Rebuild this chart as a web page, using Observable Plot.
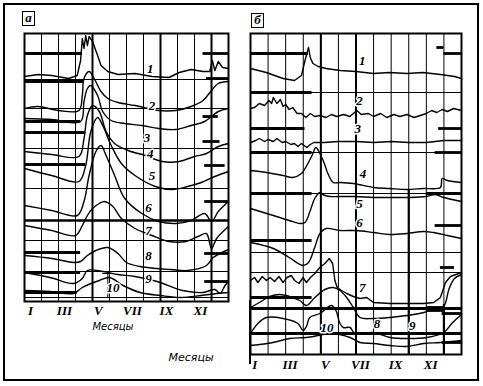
<!DOCTYPE html>
<html><head><meta charset="utf-8">
<script src="https://cdn.jsdelivr.net/npm/d3@7"></script>
<script src="https://cdn.jsdelivr.net/npm/@observablehq/plot@0.6"></script>
<style>
body{margin:0;background:#fff;}
#wrap{position:relative;width:483px;height:386px;overflow:hidden;background:#fff;}
.box{position:absolute;top:0;}
#frame{position:absolute;left:3px;top:3px;width:472px;height:374px;border:2px solid #000;}
#divider{position:absolute;left:249px;top:300px;width:2px;height:64px;background:#000;}
.plabel{position:absolute;border:1.6px solid #000;font:italic bold 13px "Liberation Serif";width:11px;height:13px;line-height:12px;text-align:center;}
g[aria-label="roman"] text{text-decoration:overline underline;}
</style></head><body>
<div id="wrap">
  <div id="frame"></div>
  <div id="divider"></div>
  <div class="box" id="pa" style="left:0px"></div>
  <div class="box" id="pb" style="left:240px"></div>
  <div class="plabel" style="left:22px;top:11px">а</div>
  <div class="plabel" style="left:251px;top:13px">б</div>
</div>
<script>
// ---------- shared ----------
const monthTicks = [0, 2, 4, 6, 8, 10];
const monthLabels = ["I", "III", "V", "VII", "IX", "XI"];
const axisTitle = "Месяцы";
const curveNames = ["1","2","3","4","5","6","7","8","9","10"];

// ---------- panel а : [month, level] ----------
const a1 = [[0,225],[0.8,227],[1.6,226],[2.6,223],[3.1,226],[3.3,241],[3.4,263],[3.5,253],[3.6,266],[3.7,256],[3.8,265],[4.0,260],[4.3,246],[4.5,236],[4.9,230],[5.5,227],[6.5,228],[7.5,225],[8.5,224],[9.1,229],[9.8,232],[10.5,230],[10.9,230],[11.05,241],[11.2,231],[11.4,240],[11.65,234],[12,233]];
const a2 = [[0,193],[0.8,195],[2.0,191],[3.2,191],[3.4,206],[3.5,223],[3.8,230],[4.1,223],[4.5,210],[4.9,203],[5.5,199],[6.5,196],[7.9,191],[8.9,191],[9.8,195],[10.5,201],[11.0,211],[11.4,218],[12,220]];
const a3 = [[0,183],[1.6,182],[3.3,180],[3.5,200],[3.7,213],[3.9,216],[4.3,206],[4.6,190],[5.1,181],[5.9,178],[6.9,176],[7.9,173],[8.9,172],[9.8,176],[10.6,180],[11.4,190],[12,193]];
const a4 = [[0,150],[1.6,147],[3.2,145],[3.5,163],[3.7,186],[4.0,196],[4.4,190],[4.8,170],[5.3,158],[6.1,151],[7.1,146],[8.1,140],[9.1,140],[10.0,145],[10.7,148],[11.4,155],[12,158]];
const a5 = [[0,133],[1.6,126],[3.2,120],[3.6,136],[3.9,170],[4.3,184],[4.6,176],[5.1,156],[5.7,138],[6.5,126],[7.7,115],[8.7,112],[9.6,115],[10.4,119],[11.2,125],[12,130]];
const a6 = [[0,96],[1.6,91],[3.1,86],[3.5,100],[3.8,126],[4.2,150],[4.5,156],[4.8,146],[5.3,126],[5.9,103],[6.9,88],[7.9,80],[8.9,78],[9.8,81],[10.6,88],[11.0,80],[11.4,90],[12,100]];
const a7 = [[0,76],[1.6,71],[3.0,66],[3.4,76],[3.7,86],[4.0,93],[4.4,98],[4.7,100],[5.2,95],[5.7,83],[6.5,73],[7.5,66],[8.5,60],[9.5,60],[10.2,65],[10.7,68],[11.0,53],[11.3,63],[12,75]];
const a8 = [[0,46],[1.6,43],[2.9,39],[3.3,40],[3.7,46],[4.2,51],[4.9,54],[5.5,48],[6.0,39],[6.8,35],[7.8,33],[8.6,32],[9.6,31],[10.7,36],[11.1,44],[11.5,48],[12,52]];
const a9 = [[0,29],[1.5,24],[2.9,18],[3.4,23],[3.7,31],[4.6,30],[5.5,27],[6.5,25],[7.8,20],[9.3,11],[10.5,9],[11.2,12],[11.5,8],[11.8,16],[12,20]];
const a10 = [[0,11],[1.5,10],[2.9,8],[3.4,14],[4.4,21],[5.0,24],[5.8,16],[6.8,9],[8.0,6],[9.2,4],[10.4,6],[11.3,8],[12,9]];
const aLabelMonth = [7.4,7.5,7.2,7.4,7.5,7.3,7.3,7.3,7.3,5.2];
const aLabelLevel = [233,196,164,148,126,94,71,46,23,14];
const aThinY = [222,193,153,113,61,30,4];
const aThickFullY = [81];
const aThickY    = [248,220,180,169,137,49,29,9, 248,223,185,160,136,100,48,20];
const aThickFrom = [0,0,0,0,0,0,0,0, 10.5,10.7,10.5,10.5,10.6,10.6,10.6,10.6];
const aThickTo   = [3.4,3.5,3.3,3.6,3.6,3.3,3.3,3.1, 12,12,11.4,11.5,11.8,12,12,12];
const aThickV = [4,8,11];

// ---------- panel б ----------
const b1 = [[0,286],[0.9,282],[1.85,276],[2.5,274],[2.9,279],[3.1,294],[3.3,307],[3.4,297],[3.55,291],[3.85,288],[4.3,286],[5.1,284],[6.0,283],[7.0,281],[7.9,282],[8.9,281],[9.8,282],[10.8,280],[11.6,278],[12,276]];
const b2 = [[0,246],[0.23,247],[0.5,251],[0.8,249],[1.05,254],[1.2,251],[1.3,257],[1.5,251],[1.7,255],[1.85,248],[2.0,250],[2.2,245],[2.4,247],[2.65,241],[2.9,241],[3.15,237],[3.4,241],[3.65,238],[3.95,239],[4.3,237],[4.6,240],[4.9,238],[5.3,240],[5.65,238],[6.05,244],[6.3,240],[6.7,241],[7.0,238],[7.4,241],[7.75,237],[8.15,240],[8.5,238],[8.9,240],[9.3,237],[9.65,239],[10.0,241],[10.3,244],[10.6,242],[10.9,245],[11.2,243],[11.55,246],[12,244]];
const b3 = [[0,212],[0.3,214],[0.5,216],[0.8,213],[1,215],[1.3,213],[1.5,216],[1.8,212],[2,213],[2.3,210],[2.5,211],[2.7,208],[2.9,211],[3.2,207],[3.4,210],[3.6,212],[4.2,212],[5,213],[6,213],[7,212],[8,213],[9,212],[10,212],[11,214],[12,214]];
const b4 = [[0,184],[0.9,182],[1.85,179],[2.4,177],[2.9,181],[3.2,189],[3.5,199],[3.72,207],[3.95,201],[4.2,191],[4.4,181],[4.7,172],[5.1,172],[5.85,171],[7.0,167],[7.9,166],[8.9,165],[9.8,166],[10.8,167],[10.9,176],[11.2,174],[12,172]];
const b5 = [[0,146],[1.3,139],[2.2,134],[2.8,131],[3.1,132],[3.4,144],[3.65,156],[3.95,162],[4.1,160],[4.5,158],[5,158],[6,158],[7,157],[8,157],[9,157],[10,158],[10.5,160],[11,157],[12,153]];
const b6 = [[0,112],[1.3,106],[2.2,97],[3.0,89],[3.3,92],[3.65,107],[3.95,121],[4.3,126],[5.1,124],[6.0,124],[7.0,122],[7.9,120],[8.9,121],[9.85,123],[10.4,122],[11.2,119],[12,116]];
const b7 = [[0,74],[0.23,77],[0.42,72],[0.67,78],[0.9,74],[1.12,77],[1.37,73],[1.62,78],[1.85,72],[2.08,77],[2.32,79],[2.51,74],[2.76,71],[2.99,77],[3.18,72],[3.41,77],[3.66,81],[3.94,87],[4.23,91],[4.48,96],[4.67,91],[4.8,74],[4.93,67],[5.18,64],[5.47,61],[5.85,58],[6.23,56],[6.61,57],[6.99,52],[7.94,51],[8.9,51],[9.85,51],[10.42,52],[10.8,57],[11.09,72],[11.37,78],[12,82]];
const b8 = [[0,47],[0.51,52],[1.09,58],[1.66,60],[2.23,58],[2.8,54],[3.18,49],[3.66,57],[4.23,65],[4.7,67],[5.09,64],[5.47,57],[5.85,47],[6.23,37],[6.99,36],[7.94,37],[8.9,39],[9.85,42],[10.61,46],[10.99,48],[11.3,66],[11.6,76],[12,80]];
const b9 = [[0,9],[1.28,12],[2.23,16],[3.18,17],[4.7,21],[5.66,17],[6.23,12],[6.99,11],[7.94,9],[8.9,8],[9.85,11],[10.8,12],[12,14]];
const b10 = [[0,21],[0.42,31],[0.9,37],[1.85,36],[2.7,31],[2.99,24],[3.18,28],[3.37,37],[3.94,41],[4.61,49],[4.86,44],[5.09,31],[5.28,27],[5.66,27],[5.94,21],[6.99,22],[7.94,17],[8.9,16],[10.04,17],[10.99,22],[11.5,32],[12,40]];
const bLabelMonth = [6.35,6.2,6.1,6.4,6.2,6.2,6.35,7.2,9.2,4.35];
const bLabelLevel = [294,254,226,181,151,132,67,31,29,27];
const bThinY = [262,202,161,102,82];
const bThickY    = [301,262,226,202,161,114,57,46,21, 301,307,226,202,161,129,87,47,44,41,12];
const bThickFrom = [0,0,0,0,0,0,0,0,0, 11,10.6,10.7,10.5,10,10.5,10.8,10,10,10.9,10.9];
const bThickTo   = [3.3,3.5,3.1,3.5,3.5,3.5,3.5,12,12, 12,11,12,12,12,12,11.6,11,11,12,12];
const bThickV = [4,6];
const bThickVPart = [[9,0,164],[11,0,50]];

// ---------- builder ----------
function rows(series, keep) {
  return series.flatMap((s, i) => keep(i) ? s.map(([m, v]) => ({m, v, k: curveNames[i]})) : []);
}
function panel({series, jagged, labelM, labelL, thinY, thickFullY, thickY, thickFrom, thickTo, thickV, thickVPart, width, height, mL, mR, mT, mB, yMax, tickShift, tickDy, extra}) {
  const smoothRows = rows(series, i => !jagged.includes(i));
  const jagRows = rows(series, i => jagged.includes(i));
  const thick = thickY.map((y, i) => ({y, a: thickFrom[i], b: thickTo[i]}));
  const labels = curveNames.map((t, i) => ({t, m: labelM[i], v: labelL[i]}));
  const ticks = monthTicks.map((m, i) => ({m: m + tickShift, t: monthLabels[i]}));
  return Plot.plot({
    width, height, marginLeft: mL, marginRight: mR, marginTop: mT, marginBottom: mB,
    style: {background: "transparent", overflow: "visible"},
    x: {domain: [0, 12], axis: null},
    y: {domain: [0, yMax], axis: null},
    marks: [
      Plot.ruleX(d3.range(13), {stroke: "#000", strokeWidth: 1}),
      Plot.ruleX(thickV, {stroke: "#000", strokeWidth: 2}),
      Plot.ruleX(thickVPart, {x: d => d[0], y1: d => d[1], y2: d => d[2], stroke: "#000", strokeWidth: 2.2}),
      Plot.ruleY(thinY, {stroke: "#000", strokeWidth: 1}),
      Plot.ruleY(thickFullY, {stroke: "#000", strokeWidth: 2.6}),
      Plot.ruleY(thick, {y: "y", x1: "a", x2: "b", stroke: "#000", strokeWidth: 2.8}),
      ...(extra || []),
      Plot.line(smoothRows, {x: "m", y: "v", z: "k", curve: "catmull-rom", stroke: "#000", strokeWidth: 1.4}),
      Plot.line(jagRows, {x: "m", y: "v", z: "k", curve: "linear", stroke: "#000", strokeWidth: 1.4}),
      Plot.frame({stroke: "#000", strokeWidth: 2}),
      Plot.text(labels, {x: "m", y: "v", text: "t", fontFamily: "Liberation Serif", fontStyle: "italic", fontWeight: "bold", fontSize: 13, fill: "#000", stroke: "#fff", strokeWidth: 3, paintOrder: "stroke"}),
      Plot.text(ticks, {x: "m", y: 0, text: "t", dy: tickDy, fontFamily: "Liberation Serif", fontStyle: "italic", fontWeight: "bold", fontSize: 13, fill: "#000", ariaLabel: "roman"})
    ]
  });
}

const svgA = panel({
  series: [a1,a2,a3,a4,a5,a6,a7,a8,a9,a10], jagged: [0],
  labelM: aLabelMonth, labelL: aLabelLevel,
  thinY: aThinY, thickFullY: aThickFullY, thickY: aThickY, thickFrom: aThickFrom, thickTo: aThickTo,
  thickV: aThickV, thickVPart: [],
  width: 240, height: 386, mL: 24, mR: 12, mT: 33, mB: 85, yMax: 268, tickShift: 0.35, tickDy: 9,
  extra: [
    Plot.ruleX([4.9], {y1: 4, y2: 28, stroke: "#000", strokeWidth: 1}),
    Plot.ruleY([28], {x1: 4.6, x2: 5.1, stroke: "#000", strokeWidth: 1}),
    Plot.text([axisTitle], {x: 5.2, y: 0, dy: 25, text: d => d, fontFamily: "DejaVu Sans", fontStyle: "italic", fontSize: 10, letterSpacing: 1, fill: "#000"}),
    Plot.text([axisTitle], {x: 9.8, y: 0, dy: 56, text: d => d, fontFamily: "DejaVu Sans", fontStyle: "italic", fontSize: 11, letterSpacing: 1, fill: "#000"})
  ]
});
document.getElementById("pa").appendChild(svgA);

const svgB = panel({
  series: [b1,b2,b3,b4,b5,b6,b7,b8,b9,b10], jagged: [0,1,2,6],
  labelM: bLabelMonth, labelL: bLabelLevel,
  thinY: bThinY, thickFullY: [], thickY: bThickY, thickFrom: bThickFrom, thickTo: bThickTo,
  thickV: bThickV, thickVPart: bThickVPart,
  width: 243, height: 386, mL: 10, mR: 22, mT: 33, mB: 32, yMax: 321, tickShift: 0.25, tickDy: 10
});
document.getElementById("pb").appendChild(svgB);
</script>
</body></html>
